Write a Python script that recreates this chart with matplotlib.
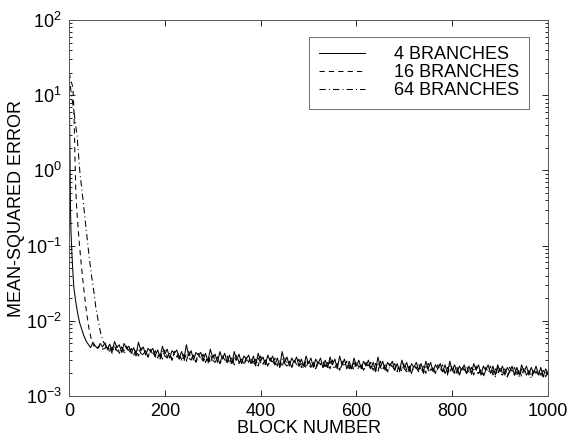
import numpy as np
import matplotlib
matplotlib.use("Agg")
import matplotlib.pyplot as plt
from matplotlib.ticker import LogLocator

plt.rcParams['font.family'] = ['Liberation Sans', 'DejaVu Sans']
plt.rcParams['mathtext.fontset'] = 'custom'
plt.rcParams['mathtext.rm'] = 'Liberation Sans'

# start-up transient of each curve (block number, MSE)
head_x_4 = [0, 1, 2, 3, 4, 6, 8, 10, 14, 18, 22, 27, 31, 37, 40, 45, 50, 55, 60, 65, 70]
head_y_4 = [20, 6.3, 1.6, 0.32, 0.16, 0.079, 0.045, 0.028, 0.018, 0.0126, 0.0095, 0.0076,
            0.0063, 0.0052, 0.0049, 0.0044, 0.0052, 0.0046, 0.0043, 0.0050, 0.0045]

head_x_16 = [0, 2, 4, 6, 8, 10, 12, 14, 17, 21, 26, 31, 36, 42, 48, 52, 56, 60, 65, 70]
head_y_16 = [20, 17.8, 15.8, 14.1, 12.6, 7.1, 2.0, 0.55, 0.25, 0.117, 0.052, 0.026,
             0.0138, 0.0076, 0.0052, 0.0046, 0.0049, 0.0043, 0.0047, 0.0042]

head_x_64 = [0, 5, 10, 14, 17, 20, 23, 27, 32, 37, 42, 47, 52, 56, 61, 66, 72]
head_y_64 = [20, 10, 6.3, 4.0, 2.8, 1.6, 0.89, 0.55, 0.28, 0.14, 0.071, 0.040,
             0.024, 0.015, 0.010, 0.0069, 0.0052]

# steady-state part, blocks 75..1000 every 5 blocks, values in units of 1e-3
tail_x = list(range(75, 1001, 5))

tail_4 = [
    5.1, 4.2, 4.9, 3.9, 5.3, 4.4, 4.8, 3.8, 5.0, 4.3,
    4.6, 3.7, 4.4, 3.6, 5.2, 4.0, 4.5, 3.5, 4.3, 3.9,
    4.3, 3.4, 4.1, 3.3, 4.6, 3.6, 4.2, 3.2, 4.0, 3.7,
    4.1, 3.2, 3.9, 3.1, 4.8, 3.4, 4.0, 3.0, 3.8, 3.5,
    3.8, 3.0, 3.7, 2.9, 4.2, 3.2, 3.6, 2.8, 3.9, 3.1,
    3.7, 2.8, 3.5, 2.7, 3.9, 3.0, 3.6, 2.7, 3.4, 3.1,
    3.5, 2.7, 3.4, 2.6, 3.7, 2.9, 3.3, 2.6, 3.5, 2.9,
    3.4, 2.6, 3.2, 2.5, 3.9, 2.8, 3.3, 2.5, 3.2, 2.8,
    3.3, 2.5, 3.1, 2.5, 3.4, 2.7, 3.2, 2.4, 3.1, 2.7,
    3.2, 2.4, 3.0, 2.4, 3.3, 2.6, 3.1, 2.3, 3.4, 2.6,
    3.1, 2.3, 2.9, 2.3, 3.2, 2.5, 3.0, 2.3, 2.9, 2.5,
    3.0, 2.3, 2.8, 2.2, 3.3, 2.4, 2.9, 2.2, 2.8, 2.5,
    2.9, 2.2, 2.7, 2.2, 3.0, 2.4, 2.8, 2.1, 2.7, 2.4,
    2.8, 2.2, 2.7, 2.1, 2.9, 2.3, 2.8, 2.1, 2.6, 2.3,
    2.7, 2.1, 2.6, 2.0, 2.9, 2.2, 2.6, 2.0, 2.5, 2.2,
    2.6, 2.0, 2.5, 2.0, 2.7, 2.2, 2.6, 1.9, 2.5, 2.2,
    2.6, 2.0, 2.5, 1.9, 2.6, 2.1, 2.5, 1.9, 2.4, 2.1,
    2.5, 1.9, 2.4, 1.9, 2.6, 2.1, 2.5, 1.9, 2.4, 2.0,
    2.5, 1.9, 2.4, 1.8, 2.3, 2.0,
]

tail_16 = [
    4.3, 4.8, 3.8, 4.5, 3.9, 4.7, 3.7, 4.4, 4.0, 4.6,
    3.8, 4.3, 3.5, 4.1, 3.4, 4.4, 3.6, 4.0, 3.3, 4.2,
    3.5, 4.0, 3.2, 3.8, 3.1, 4.1, 3.3, 3.7, 3.0, 3.9,
    3.3, 3.8, 3.0, 3.6, 2.9, 3.9, 3.1, 3.5, 2.9, 3.7,
    3.1, 3.6, 2.8, 3.4, 2.7, 3.7, 2.9, 3.3, 2.7, 3.5,
    3.0, 3.4, 2.7, 3.3, 2.6, 3.5, 2.8, 3.2, 2.6, 3.3,
    2.8, 3.3, 2.6, 3.1, 2.5, 3.4, 2.7, 3.0, 2.5, 3.2,
    2.7, 3.2, 2.5, 3.0, 2.4, 3.3, 2.6, 2.9, 2.4, 3.1,
    2.6, 3.1, 2.4, 2.9, 2.3, 3.1, 2.5, 2.8, 2.3, 3.0,
    2.6, 3.0, 2.3, 2.8, 2.3, 3.0, 2.4, 2.7, 2.2, 2.9,
    2.5, 2.9, 2.3, 2.7, 2.2, 2.9, 2.4, 2.6, 2.2, 2.8,
    2.4, 2.8, 2.2, 2.7, 2.1, 2.9, 2.3, 2.6, 2.1, 2.7,
    2.4, 2.7, 2.1, 2.6, 2.1, 2.8, 2.2, 2.5, 2.0, 2.6,
    2.3, 2.7, 2.1, 2.5, 2.0, 2.7, 2.2, 2.4, 2.0, 2.6,
    2.2, 2.6, 2.0, 2.4, 2.0, 2.6, 2.1, 2.4, 1.9, 2.5,
    2.2, 2.5, 2.0, 2.4, 1.9, 2.5, 2.0, 2.3, 1.9, 2.4,
    2.1, 2.5, 1.9, 2.3, 1.9, 2.5, 2.0, 2.3, 1.8, 2.4,
    2.1, 2.4, 1.9, 2.3, 1.8, 2.4, 1.9, 2.2, 1.8, 2.3,
    2.0, 2.3, 1.8, 2.2, 1.8, 2.1,
]

tail_64 = [
    4.9, 4.1, 4.4, 3.7, 4.6, 4.0, 3.8, 4.5, 3.6, 4.3,
    4.1, 3.6, 3.9, 3.4, 4.3, 3.7, 3.5, 4.0, 3.3, 3.9,
    3.8, 3.3, 3.6, 3.1, 4.0, 3.4, 3.2, 3.7, 3.0, 3.6,
    3.5, 3.1, 3.4, 2.9, 3.7, 3.2, 3.0, 3.5, 2.8, 3.4,
    3.3, 2.9, 3.2, 2.7, 3.5, 3.0, 2.8, 3.3, 2.7, 3.2,
    3.2, 2.8, 3.0, 2.6, 3.3, 2.9, 2.7, 3.1, 2.6, 3.0,
    3.0, 2.7, 2.9, 2.5, 3.2, 2.8, 2.6, 3.0, 2.5, 2.9,
    2.9, 2.6, 2.8, 2.4, 3.1, 2.7, 2.5, 2.9, 2.4, 2.8,
    2.8, 2.5, 2.7, 2.3, 3.0, 2.6, 2.4, 2.8, 2.3, 2.7,
    2.7, 2.4, 2.6, 2.3, 2.9, 2.5, 2.3, 2.7, 2.2, 2.6,
    2.6, 2.3, 2.6, 2.2, 2.8, 2.4, 2.3, 2.6, 2.2, 2.5,
    2.6, 2.3, 2.5, 2.1, 2.8, 2.4, 2.2, 2.5, 2.1, 2.5,
    2.5, 2.2, 2.4, 2.1, 2.7, 2.3, 2.1, 2.5, 2.0, 2.4,
    2.4, 2.1, 2.4, 2.0, 2.6, 2.2, 2.1, 2.4, 2.0, 2.3,
    2.3, 2.1, 2.3, 1.9, 2.5, 2.2, 2.0, 2.3, 1.9, 2.3,
    2.3, 2.0, 2.2, 1.9, 2.4, 2.1, 2.0, 2.2, 1.8, 2.2,
    2.2, 2.0, 2.2, 1.8, 2.4, 2.0, 1.9, 2.2, 1.8, 2.1,
    2.2, 1.9, 2.1, 1.8, 2.3, 2.0, 1.9, 2.1, 1.7, 2.1,
    2.1, 1.9, 2.0, 1.8, 2.2, 1.9,
]

labels = ['4 BRANCHES', '16 BRANCHES', '64 BRANCHES']


def series(hx, hy, tail):
    x = np.array(hx + tail_x, dtype=float)
    y = np.concatenate([np.array(hy), np.array(tail) * 1e-3])
    return x, y


fig = plt.figure(figsize=(5.69, 4.41), dpi=100)
ax = fig.add_axes([0.1213, 0.102, 0.8418, 0.8526])

x4, y4 = series(head_x_4, head_y_4, tail_4)
x16, y16 = series(head_x_16, head_y_16, tail_16)
x64, y64 = series(head_x_64, head_y_64, tail_64)

ax.plot(x4, y4, color='black', lw=0.75, ls='-', label=labels[0])
ax.plot(x16, y16, color='black', lw=0.75, ls=(0, (5, 4)), label=labels[1])
ax.plot(x64, y64, color='black', lw=0.75, ls=(0, (6, 3, 1, 3)), label=labels[2])

ax.set_yscale('log')
ax.set_xlim(0, 1000)
ax.set_ylim(1e-3, 1e2)
ax.set_xticks([0, 200, 400, 600, 800, 1000])
ax.yaxis.set_major_locator(LogLocator(base=10, numticks=10))
ax.yaxis.set_minor_locator(LogLocator(base=10, subs=np.arange(2, 10), numticks=20))

ax.tick_params(axis='both', which='both', direction='in', top=True, right=True,
               labelsize=13, width=0.6)
ax.tick_params(axis='both', which='major', length=4, pad=5)
ax.tick_params(axis='both', which='minor', length=2)
for s in ax.spines.values():
    s.set_linewidth(0.7)
    s.set_color('#555555')

ax.set_xlabel('BLOCK NUMBER', fontsize=13, labelpad=0)
ax.set_ylabel('MEAN-SQUARED ERROR', fontsize=13, labelpad=1)

leg = ax.legend(loc='upper right', bbox_to_anchor=(0.98, 0.98), fontsize=13,
                handlelength=2.6, handletextpad=1.6, borderpad=0.55,
                labelspacing=0.05, fancybox=False, framealpha=1)
leg.get_frame().set_edgecolor('#555555')
leg.get_frame().set_linewidth(0.6)

fig.savefig('out.png', dpi=100)
